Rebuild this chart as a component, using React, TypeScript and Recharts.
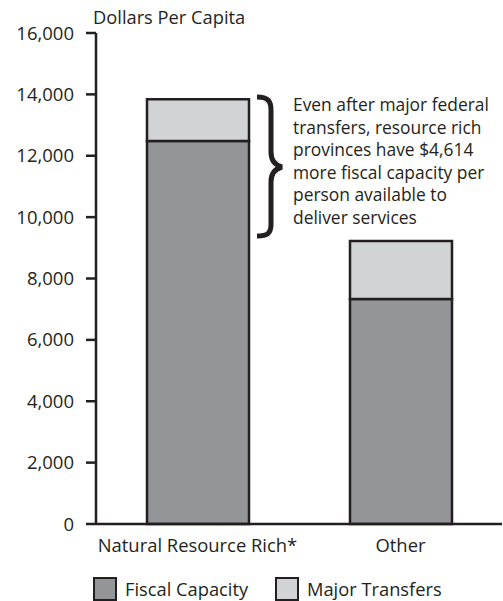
import React from "react";
import { Bar, BarChart, Customized, Legend, XAxis, YAxis } from "recharts";

const groups = ["Natural Resource Rich*", "Other"];
const fiscalCapacity = [12480, 7330];
const majorTransfers = [1360, 1890];
const yTicks = [0, 2000, 4000, 6000, 8000, 10000, 12000, 14000, 16000];
const note = [
  "Even after major federal",
  "transfers, resource rich",
  "provinces have $4,614",
  "more fiscal capacity per",
  "person available to",
  "deliver services",
];

const FONT = "'Open Sans', sans-serif";
const INK = "#231f20";
const DARK = "#939598";
const LIGHT = "#d1d3d4";

const data = groups.map((g, i) => ({
  group: g,
  fiscal: fiscalCapacity[i],
  transfers: majorTransfers[i],
}));

const fmt = (v: number) => v.toLocaleString("en-US");

const Extras = () => (
  <g fontFamily={FONT} fill={INK}>
    <text x={93} y={24} fontSize={18.3}>
      Dollars Per Capita
    </text>
    <path
      d="M257,97 C268,97 271,101 271,110 L271,152 C271,160 274,165 282,167 C274,169 271,174 271,182 L271,224 C271,233 268,236 257,236"
      fill="none"
      stroke={INK}
      strokeWidth={5}
    />
    {note.map((line, i) => (
      <text key={i} x={293} y={111 + i * 22.6} fontSize={17.4}>
        {line}
      </text>
    ))}
  </g>
);

const LegendBox = () => (
  <div
    style={{
      position: "relative",
      height: 40,
      fontFamily: FONT,
      fontSize: 18.3,
      color: INK,
    }}
  >
    {[
      { name: "Fiscal Capacity", fill: DARK, x: 93 },
      { name: "Major Transfers", fill: LIGHT, x: 275 },
    ].map((it) => (
      <div
        key={it.name}
        style={{ position: "absolute", left: it.x, top: 15, display: "flex", alignItems: "center" }}
      >
        <div
          style={{
            width: 20,
            height: 20,
            background: it.fill,
            border: `2px solid ${INK}`,
            marginRight: 8,
          }}
        />
        <span>{it.name}</span>
      </div>
    ))}
  </div>
);

export default function App() {
  return (
    <div style={{ position: "absolute", left: 0, top: 0, width: 503, height: 601, background: "#fff" }}>
      <BarChart
        width={503}
        height={601}
        data={data}
        margin={{ top: 33, right: 1, bottom: 0, left: 0 }}
        barSize={102}
      >
        <XAxis
          dataKey="group"
          height={37}
          tickLine={false}
          axisLine={{ stroke: INK, strokeWidth: 2.5 }}
          tick={{ fill: INK, fontSize: 18.4, fontFamily: FONT }}
          tickMargin={9}
        />
        <XAxis
          xAxisId="top"
          dataKey="group"
          orientation="top"
          height={0}
          tick={false}
          tickLine={false}
          axisLine={{ stroke: INK, strokeWidth: 2.5 }}
        />
        <YAxis
          width={96}
          domain={[0, 16000]}
          ticks={yTicks}
          interval={0}
          tickFormatter={fmt}
          tickSize={10}
          tickMargin={12}
          tickLine={{ stroke: INK, strokeWidth: 2.5 }}
          axisLine={{ stroke: INK, strokeWidth: 2.5 }}
          tick={{ fill: INK, fontSize: 18.5, fontFamily: FONT }}
        />
        <YAxis
          yAxisId="r"
          orientation="right"
          width={0}
          domain={[0, 16000]}
          tick={false}
          tickLine={false}
          axisLine={{ stroke: INK, strokeWidth: 2.5 }}
        />
        <Bar
          dataKey="fiscal"
          name="Fiscal Capacity"
          stackId="a"
          fill={DARK}
          stroke={INK}
          strokeWidth={2.5}
          isAnimationActive={false}
        />
        <Bar
          dataKey="transfers"
          name="Major Transfers"
          stackId="a"
          fill={LIGHT}
          stroke={INK}
          strokeWidth={2.5}
          isAnimationActive={false}
        />
        <Legend verticalAlign="bottom" content={<LegendBox />} wrapperStyle={{ left: 0, width: 503 }} />
        <Customized component={<Extras />} />
      </BarChart>
    </div>
  );
}
